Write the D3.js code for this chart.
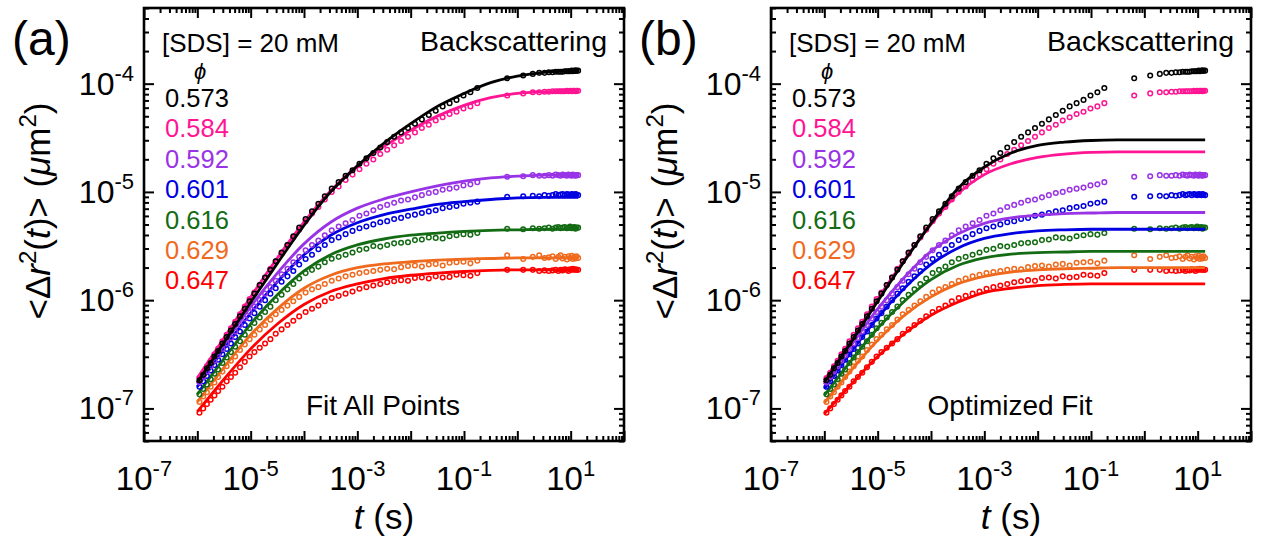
<!DOCTYPE html>
<html><head><meta charset="utf-8">
<script src="https://cdn.jsdelivr.net/npm/d3@7"></script>
<style>
html,body{margin:0;padding:0;background:#fff;}
svg{display:block;font-family:"Liberation Sans",Arial,Helvetica,sans-serif;}
</style></head><body>
<svg id="chart" width="1262" height="538"></svg>
<script>
// ---------- DATA ----------
// log10 of lag time t (s) for the measured points
const logT = [-5.96,-5.89,-5.82,-5.75,-5.68,-5.61,-5.53,-5.45,-5.37,-5.29,-5.20,-5.11,-5.02,-4.93,-4.83,-4.73,-4.63,-4.53,-4.42,-4.31,-4.20,-4.09,-3.97,-3.85,-3.73,-3.61,-3.48,-3.35,-3.22,-3.09,-2.96,-2.83,-2.70,-2.57,-2.44,-2.31,-2.18,-2.05,-1.92,-1.79,-1.66,-1.53,-1.40,-1.27,-1.14,-1.01,-0.88,-0.75,
  -0.19,0.11,0.29,0.41,0.51,0.59,0.66,0.72,0.77,0.81,0.85,0.89,0.93,0.96,0.99,1.02,1.04,1.07,1.09,1.11,1.14];

const phiLabels = ["0.573","0.584","0.592","0.601","0.616","0.629","0.647"];
const seriesColors = ["#000000","#FF1493","#9933E6","#0000E0","#136B13","#F06A1E","#FF0000"];

// log10 of MSD (um^2), measured points
const msd573 = [-6.74,-6.69,-6.63,-6.58,-6.52,-6.47,-6.40,-6.34,-6.28,-6.22,-6.15,-6.08,-6.01,-5.94,-5.86,-5.79,-5.72,-5.64,-5.56,-5.49,-5.41,-5.33,-5.25,-5.18,-5.11,-5.04,-4.97,-4.91,-4.85,-4.80,-4.74,-4.69,-4.64,-4.59,-4.54,-4.49,-4.45,-4.41,-4.37,-4.33,-4.29,-4.25,-4.21,-4.18,-4.15,-4.11,-4.08,-4.04,
  -3.95,-3.925,-3.91,-3.90,-3.90,-3.895,-3.895,-3.89,-3.89,-3.89,-3.89,-3.885,-3.885,-3.885,-3.885,-3.88,-3.885,-3.88,-3.88,-3.88,-3.88];
const msd584 = [-6.72,-6.67,-6.61,-6.56,-6.50,-6.45,-6.38,-6.32,-6.26,-6.20,-6.13,-6.06,-5.99,-5.93,-5.86,-5.79,-5.71,-5.64,-5.57,-5.49,-5.42,-5.35,-5.27,-5.20,-5.14,-5.07,-5.00,-4.95,-4.89,-4.84,-4.79,-4.74,-4.70,-4.65,-4.61,-4.57,-4.53,-4.49,-4.45,-4.41,-4.38,-4.34,-4.31,-4.28,-4.26,-4.23,-4.21,-4.18,
  -4.11,-4.09,-4.08,-4.08,-4.075,-4.075,-4.07,-4.07,-4.07,-4.07,-4.07,-4.07,-4.065,-4.07,-4.065,-4.07,-4.065,-4.065,-4.07,-4.065,-4.065];
const msd592 = [-6.76,-6.71,-6.66,-6.61,-6.56,-6.51,-6.45,-6.40,-6.35,-6.29,-6.23,-6.17,-6.11,-6.06,-6.00,-5.94,-5.88,-5.82,-5.76,-5.71,-5.65,-5.60,-5.54,-5.49,-5.45,-5.40,-5.355,-5.32,-5.29,-5.26,-5.22,-5.20,-5.17,-5.14,-5.12,-5.10,-5.08,-5.07,-5.05,-5.03,-5.01,-5.00,-4.98,-4.97,-4.96,-4.94,-4.93,-4.91,
  -4.86,-4.855,-4.845,-4.85,-4.85,-4.845,-4.85,-4.84,-4.845,-4.85,-4.84,-4.845,-4.85,-4.84,-4.845,-4.85,-4.84,-4.845,-4.85,-4.845,-4.845];
const msd601 = [-6.80,-6.75,-6.70,-6.65,-6.60,-6.55,-6.50,-6.45,-6.40,-6.34,-6.29,-6.23,-6.17,-6.12,-6.06,-6.00,-5.94,-5.89,-5.83,-5.78,-5.73,-5.67,-5.62,-5.58,-5.53,-5.49,-5.445,-5.42,-5.39,-5.36,-5.335,-5.32,-5.30,-5.28,-5.27,-5.25,-5.24,-5.22,-5.21,-5.195,-5.18,-5.17,-5.15,-5.14,-5.13,-5.11,-5.10,-5.09,
  -5.045,-5.04,-5.035,-5.04,-5.03,-5.035,-5.03,-5.02,-5.03,-5.025,-5.02,-5.03,-5.02,-5.025,-5.03,-5.02,-5.025,-5.03,-5.02,-5.025,-5.03];
const msd616 = [-6.87,-6.82,-6.78,-6.73,-6.68,-6.64,-6.58,-6.53,-6.48,-6.43,-6.38,-6.32,-6.26,-6.21,-6.16,-6.11,-6.06,-6.00,-5.95,-5.90,-5.85,-5.80,-5.75,-5.72,-5.69,-5.65,-5.617,-5.60,-5.58,-5.56,-5.535,-5.525,-5.50,-5.505,-5.49,-5.475,-5.47,-5.465,-5.445,-5.44,-5.42,-5.425,-5.43,-5.41,-5.40,-5.39,-5.395,-5.38,
  -5.34,-5.345,-5.335,-5.34,-5.335,-5.33,-5.34,-5.33,-5.325,-5.335,-5.33,-5.325,-5.335,-5.33,-5.32,-5.335,-5.33,-5.325,-5.34,-5.33,-5.33];
const msd629 = [-6.94,-6.89,-6.85,-6.80,-6.76,-6.71,-6.66,-6.61,-6.56,-6.52,-6.46,-6.41,-6.36,-6.32,-6.27,-6.23,-6.18,-6.13,-6.09,-6.05,-6.01,-5.97,-5.93,-5.90,-5.88,-5.85,-5.82,-5.80,-5.78,-5.765,-5.75,-5.74,-5.73,-5.72,-5.71,-5.715,-5.695,-5.685,-5.68,-5.69,-5.67,-5.665,-5.68,-5.655,-5.65,-5.645,-5.66,-5.635,
  -5.585,-5.62,-5.60,-5.585,-5.61,-5.605,-5.595,-5.62,-5.60,-5.585,-5.615,-5.60,-5.625,-5.595,-5.61,-5.59,-5.62,-5.60,-5.615,-5.595,-5.61];
const msd647 = [-7.04,-7.00,-6.96,-6.92,-6.88,-6.84,-6.80,-6.75,-6.71,-6.67,-6.62,-6.57,-6.52,-6.48,-6.44,-6.40,-6.36,-6.31,-6.27,-6.23,-6.19,-6.15,-6.11,-6.08,-6.05,-6.01,-5.98,-5.96,-5.94,-5.92,-5.895,-5.88,-5.865,-5.85,-5.835,-5.825,-5.815,-5.82,-5.795,-5.79,-5.80,-5.78,-5.79,-5.785,-5.765,-5.77,-5.775,-5.75,
  -5.72,-5.72,-5.72,-5.73,-5.725,-5.73,-5.725,-5.72,-5.73,-5.72,-5.725,-5.715,-5.72,-5.73,-5.715,-5.72,-5.71,-5.72,-5.715,-5.72,-5.72];

// log10 t for the fitted curves
const fitT = [-6.0,-5.5,-5.0,-4.5,-4.0,-3.5,-3.0,-2.5,-2.0,-1.5,-1.0,-0.5,0,0.5,1.0,1.14];
// panel (a): fit all points (log10 MSD)
const fitA573 = [-6.76,-6.39,-6.02,-5.66,-5.31,-5.00,-4.76,-4.55,-4.37,-4.21,-4.09,-3.99,-3.93,-3.895,-3.88,-3.875];
const fitA584 = [-6.72,-6.35,-5.97,-5.61,-5.28,-4.99,-4.76,-4.58,-4.43,-4.30,-4.20,-4.13,-4.09,-4.075,-4.07,-4.07];
const fitA592 = [-6.77,-6.41,-6.06,-5.75,-5.48,-5.28,-5.15,-5.065,-5.00,-4.945,-4.90,-4.87,-4.855,-4.845,-4.845,-4.845];
const fitA601 = [-6.80,-6.45,-6.12,-5.83,-5.58,-5.40,-5.285,-5.21,-5.16,-5.115,-5.09,-5.07,-5.055,-5.05,-5.05,-5.05];
const fitA616 = [-6.87,-6.54,-6.22,-5.95,-5.73,-5.58,-5.49,-5.435,-5.40,-5.38,-5.365,-5.355,-5.35,-5.345,-5.345,-5.345];
const fitA629 = [-6.94,-6.62,-6.32,-6.08,-5.89,-5.77,-5.70,-5.665,-5.645,-5.63,-5.62,-5.615,-5.61,-5.61,-5.61,-5.61];
const fitA647 = [-7.03,-6.73,-6.45,-6.22,-6.04,-5.92,-5.85,-5.80,-5.77,-5.75,-5.735,-5.725,-5.72,-5.72,-5.72,-5.72];
// panel (b): optimized fit (log10 MSD)
const fitB573 = [-6.76,-6.39,-6.01,-5.64,-5.29,-4.97,-4.77,-4.64,-4.57,-4.54,-4.525,-4.52,-4.52,-4.52,-4.52,-4.52];
const fitB584 = [-6.74,-6.37,-5.99,-5.63,-5.30,-5.02,-4.84,-4.74,-4.68,-4.65,-4.635,-4.63,-4.63,-4.63,-4.63,-4.63];
const fitB592 = [-6.78,-6.42,-6.08,-5.79,-5.55,-5.39,-5.29,-5.24,-5.215,-5.20,-5.195,-5.19,-5.19,-5.19,-5.19,-5.19];
const fitB601 = [-6.82,-6.48,-6.16,-5.89,-5.67,-5.52,-5.43,-5.385,-5.36,-5.35,-5.345,-5.345,-5.345,-5.345,-5.345,-5.345];
const fitB616 = [-6.88,-6.56,-6.26,-6.01,-5.81,-5.68,-5.61,-5.575,-5.56,-5.555,-5.55,-5.55,-5.55,-5.55,-5.55,-5.55];
const fitB629 = [-6.95,-6.65,-6.37,-6.14,-5.97,-5.85,-5.78,-5.74,-5.72,-5.71,-5.705,-5.70,-5.70,-5.70,-5.70,-5.70];
const fitB647 = [-7.05,-6.78,-6.52,-6.31,-6.14,-6.02,-5.93,-5.89,-5.865,-5.855,-5.85,-5.85,-5.85,-5.85,-5.85,-5.85];

// axis ticks (exponents)
const xMajorExps = [-7,-6,-5,-4,-3,-2,-1,0,1,2];
const xLabelExps = [-7,-5,-3,-1,1];
const yMajorExps = [-7,-6,-5,-4];
const yLabelExps = [-7,-6,-5,-4];

// ---------- DRAW ----------
const msdAll = [msd573,msd584,msd592,msd601,msd616,msd629,msd647];
const fitAAll = [fitA573,fitA584,fitA592,fitA601,fitA616,fitA629,fitA647];
const fitBAll = [fitB573,fitB584,fitB592,fitB601,fitB616,fitB629,fitB647];

const svg = d3.select("#chart");
const W = 480, H = 433, TOP = 8;
const x = d3.scaleLog().domain([1e-7, 1e2]).range([0, W]);
const y = d3.scaleLog().domain([5e-8, 5e-4]).range([H, 0]);
const pow = e => Math.pow(10, e);
const isMajor = v => Math.abs(Math.log10(v) - Math.round(Math.log10(v))) < 1e-6;

const panels = [
  {x0: 144, tag: "(a)", note: "Fit All Points", fits: fitAAll},
  {x0: 771, tag: "(b)", note: "Optimized Fit", fits: fitBAll}
];

const line = d3.line().x(d => x(d.t)).y(d => y(d.m)).curve(d3.curveMonotoneX);

panels.forEach(p => {
  const g = svg.append("g").attr("transform", `translate(${p.x0},${TOP})`);

  const order = [6,5,4,3,2,1,0];
  order.forEach(i => {
    const pts = logT.map((lt, j) => ({t: pow(lt), m: pow(msdAll[i][j])}));
    g.append("g").selectAll("circle").data(pts).join("circle")
      .attr("cx", d => x(d.t)).attr("cy", d => y(d.m)).attr("r", 2.3)
      .attr("fill", "none").attr("stroke", seriesColors[i]).attr("stroke-width", 1.5);
    const fl = fitT.map((lt, j) => ({t: pow(lt), m: pow(p.fits[i][j])}));
    g.append("path").datum(fl).attr("d", line).attr("fill", "none")
      .attr("stroke", seriesColors[i]).attr("stroke-width", 2.8);
  });

  // axes with inward ticks on all four sides
  const xMaj = xMajorExps.map(pow);
  const xMin = x.ticks().filter(v => !isMajor(v));
  const yMaj = yMajorExps.map(pow);
  const yMin = y.ticks().filter(v => !isMajor(v));
  const mk = (axisFn, scale, vals, size, tr) => {
    const a = g.append("g").attr("transform", tr)
      .call(axisFn(scale).tickValues(vals).tickSize(-size).tickSizeOuter(0).tickFormat(""));
    a.select(".domain").remove();
    a.selectAll(".tick line").attr("stroke", "#000").attr("stroke-width", 2);
  };
  mk(d3.axisBottom, x, xMaj, 10, `translate(0,${H})`);
  mk(d3.axisBottom, x, xMin, 5, `translate(0,${H})`);
  mk(d3.axisTop, x, xMaj, 10, `translate(0,0)`);
  mk(d3.axisTop, x, xMin, 5, `translate(0,0)`);
  mk(d3.axisLeft, y, yMaj, 10, `translate(0,0)`);
  mk(d3.axisLeft, y, yMin, 5, `translate(0,0)`);
  mk(d3.axisRight, y, yMaj, 10, `translate(${W},0)`);
  mk(d3.axisRight, y, yMin, 5, `translate(${W},0)`);

  g.append("rect").attr("x", 0).attr("y", 0).attr("width", W).attr("height", H)
    .attr("fill", "none").attr("stroke", "#000").attr("stroke-width", 2.6);

  // tick labels
  xLabelExps.forEach(e => {
    const t = g.append("text").attr("x", x(pow(e))).attr("y", H + 49)
      .attr("text-anchor", "middle").attr("font-size", 33).attr("fill", "#000");
    t.append("tspan").text("10");
    t.append("tspan").attr("font-size", 22).attr("dy", -14).text(String(e));
  });
  yLabelExps.forEach(e => {
    const t = g.append("text").attr("x", -10).attr("y", y(pow(e)) + 11)
      .attr("text-anchor", "end").attr("font-size", 32).attr("fill", "#000");
    t.append("tspan").text("10");
    t.append("tspan").attr("font-size", 22).attr("dy", -14).text(String(e));
  });

  // axis titles
  const xt = g.append("text").attr("x", W / 2).attr("y", H + 88)
    .attr("text-anchor", "middle").attr("font-size", 35);
  xt.append("tspan").attr("font-style", "italic").text("t");
  xt.append("tspan").text(" (s)");

  const yt = g.append("text").attr("transform", `translate(-94,${203}) rotate(-90)`)
    .attr("text-anchor", "middle").attr("font-size", 35);
  yt.append("tspan").text("<Δ");
  yt.append("tspan").attr("font-style", "italic").text("r");
  yt.append("tspan").attr("font-size", 24).attr("dy", -14).text("2");
  yt.append("tspan").attr("dy", 14).text("(");
  yt.append("tspan").attr("font-style", "italic").text("t");
  yt.append("tspan").text(")> (");
  yt.append("tspan").attr("font-style", "italic").text("μ");
  yt.append("tspan").text("m");
  yt.append("tspan").attr("font-size", 24).attr("dy", -14).text("2");
  yt.append("tspan").attr("dy", 14).text(")");

  // panel tag
  svg.append("text").attr("x", p.x0 - 132).attr("y", 55).attr("font-size", 48).text(p.tag);

  // legend / annotations
  g.append("text").attr("x", 18).attr("y", 44).attr("font-size", 26).text("[SDS] = 20 mM");
  g.append("text").attr("x", W - 17).attr("y", 43).attr("text-anchor", "end").attr("font-size", 28.5).text("Backscattering");
  g.append("text").attr("x", 56).attr("y", 71).attr("text-anchor", "middle").attr("font-size", 22)
    .attr("font-style", "italic").text("ϕ");
  phiLabels.forEach((s, i) => {
    g.append("text").attr("x", 21).attr("y", 99 + i * 30.4).attr("font-size", 25.5)
      .attr("fill", seriesColors[i]).text(s);
  });
  g.append("text").attr("x", W / 2 - 1).attr("y", 407).attr("text-anchor", "middle").attr("font-size", 28).text(p.note);
});
</script>
</body></html>
